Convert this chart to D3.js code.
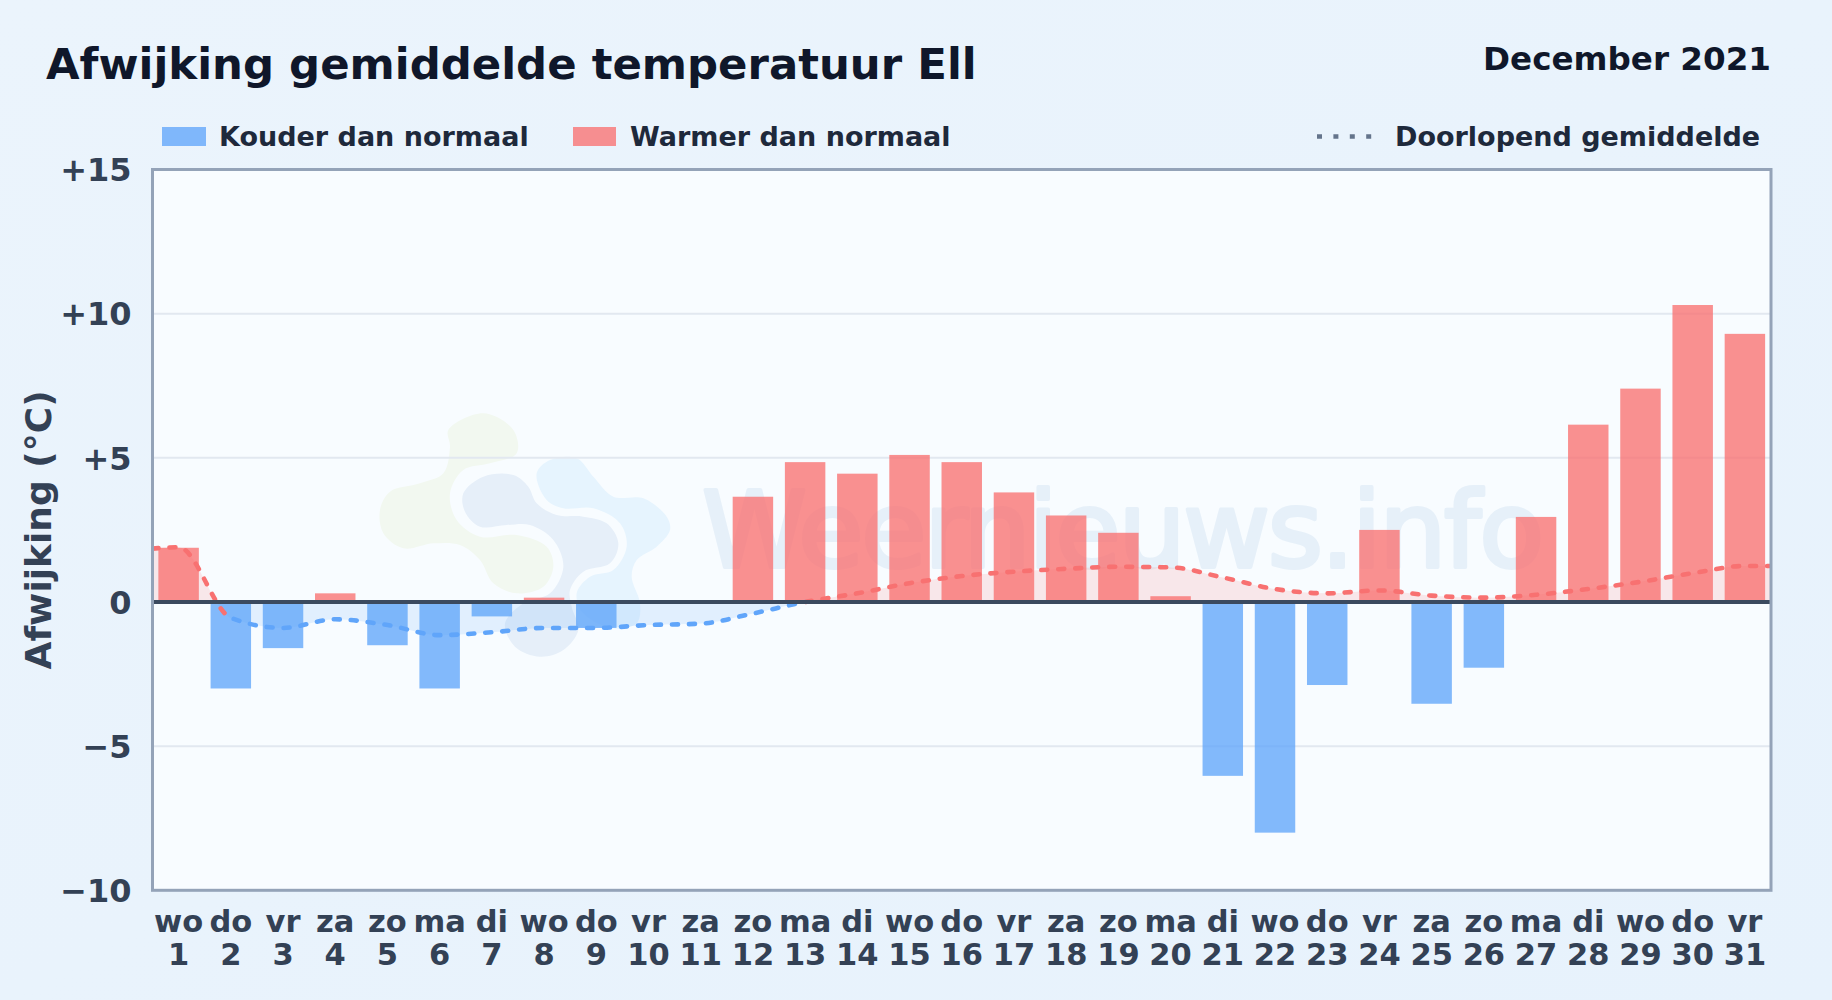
<!DOCTYPE html>
<html>
<head>
    <meta charset="UTF-8">
    <title>Afwijking gemiddelde temperatuur Ell</title>
    <script src="https://d3js.org/d3.v7.min.js"></script>
    <style>
        html, body { margin: 0; padding: 0; background: #e8f3fc; }
        svg { display: block; font-family: "DejaVu Sans", sans-serif; font-weight: bold; }
    </style>
</head>
<body>
<div id="svg-area"></div>
<script>
// Data
var days = [1, 2, 3, 4, 5, 6, 7, 8, 9, 10, 11, 12, 13, 14, 15, 16, 17, 18, 19, 20, 21, 22, 23, 24, 25, 26, 27, 28, 29, 30, 31];
var weekdays = ["wo", "do", "vr", "za", "zo", "ma", "di", "wo", "do", "vr", "za", "zo", "ma", "di", "wo", "do", "vr", "za", "zo", "ma", "di", "wo", "do", "vr", "za", "zo", "ma", "di", "wo", "do", "vr"];
var deviation = [1.88, -3.0, -1.6, 0.3, -1.5, -3.0, -0.5, 0.15, -0.9, 0, 0, 3.65, 4.85, 4.45, 5.1, 4.85, 3.8, 3.0, 2.4, 0.2, -6.03, -8.0, -2.88, 2.5, -3.53, -2.28, 2.95, 6.15, 7.4, 10.3, 9.3];
var runningAvg = [1.9, -0.55, -0.9, -0.6, -0.8, -1.15, -1.05, -0.9, -0.9, -0.8, -0.75, -0.4, 0.0, 0.3, 0.65, 0.9, 1.05, 1.15, 1.22, 1.2, 0.85, 0.45, 0.3, 0.4, 0.22, 0.15, 0.25, 0.45, 0.7, 1.0, 1.25];
var avgLeftEdge = 1.85;
var avgRightEdge = 1.25;
var yTicks = [-10, -5, 0, 5, 10, 15];
var yTickLabels = ["\u221210", "\u22125", "0", "+5", "+10", "+15"];

var width = 1832;
var height = 1000;
var margin = { top: 169.5, bottom: 109.7, left: 152.5, right: 61 };

var coldColor = "#60a5fa";
var warmColor = "#f87171";

var svg = d3.select("#svg-area")
    .append("svg")
    .attr("width", width)
    .attr("height", height);

var defs = svg.append("defs");

var pageGrad = defs.append("linearGradient").attr("id", "pageBg")
    .attr("x1", 0).attr("y1", 0).attr("x2", 1).attr("y2", 1);
pageGrad.append("stop").attr("offset", "0%").attr("stop-color", "#ebf4fc");
pageGrad.append("stop").attr("offset", "100%").attr("stop-color", "#e7f2fc");

svg.append("rect").attr("width", width).attr("height", height).attr("fill", "url(#pageBg)");

var x = d3.scaleBand()
    .domain(days)
    .range([margin.left, width - margin.right])
    .paddingInner(0.225)
    .paddingOuter(0.1125);

var y = d3.scaleLinear()
    .domain([-10, 15])
    .range([height - margin.bottom, margin.top]);

var xMid = function(d) { return x(d) + x.bandwidth() / 2; };

// plot background
svg.append("rect")
    .attr("x", x.range()[0])
    .attr("y", y(15))
    .attr("width", x.range()[1] - x.range()[0])
    .attr("height", y(-10) - y(15))
    .attr("fill", "#f8fcff");

// watermark logo, sits under everything
var blobs = [
    { color: "#f2f8f0", pts: [[400,100],[490,150],[500,220],[420,250],[340,270],[300,340],[320,420],[390,470],[500,465],[590,500],[610,560],[580,620],[500,640],[430,610],[390,540],[330,495],[250,490],[160,505],[100,460],[90,390],[120,335],[210,310],[280,280],[300,200],[295,150]] },
    { color: "#e6eff9", pts: [[340,340],[400,290],[490,285],[535,320],[560,370],[620,405],[700,410],[770,430],[805,490],[780,550],[700,575],[660,630],[665,680],[685,750],[640,810],[570,830],[495,800],[465,730],[520,670],[600,640],[640,560],[610,480],[540,435],[470,435],[390,440],[345,395]] },
    { color: "#e6f4fe", pts: [[560,280],[600,240],[680,235],[730,290],[790,350],[880,355],[950,410],[960,450],[920,500],[860,540],[845,590],[870,670],[860,730],[790,745],[700,700],[680,640],[720,590],[790,570],[830,500],[810,430],[730,385],[640,385],[590,360]] }
];
var blobLine = d3.line()
    .x(function(p) { return 350 + p[0] / 3; })
    .y(function(p) { return 380 + p[1] / 3; })
    .curve(d3.curveCatmullRomClosed.alpha(0.5));
svg.append("g").selectAll("path")
    .data(blobs)
    .enter()
    .append("path")
    .attr("d", function(b) { return blobLine(b.pts); })
    .attr("fill", function(b) { return b.color; });

svg.append("text")
    .attr("x", 702)
    .attr("y", 567)
    .attr("font-size", 106)
    .attr("font-weight", "normal")
    .attr("fill", "#e6f0f9")
    .attr("stroke", "#e6f0f9")
    .attr("stroke-width", 4)
    .attr("stroke-linejoin", "round")
    .attr("textLength", 842)
    .text("Weernieuws.info");

// grid lines
svg.append("g").selectAll("line")
    .data(yTicks.filter(function(t) { return t !== 0 && t !== 15 && t !== -10; }))
    .enter()
    .append("line")
    .attr("x1", x.range()[0])
    .attr("x2", x.range()[1])
    .attr("y1", function(d) { return y(d); })
    .attr("y2", function(d) { return y(d); })
    .attr("stroke", "#e2e8f0")
    .attr("stroke-width", 2);

// bars
svg.append("g").selectAll("rect")
    .data(deviation)
    .enter()
    .append("rect")
    .attr("x", function(d, i) { return x(days[i]); })
    .attr("y", function(d) { return y(Math.max(d, 0)); })
    .attr("width", x.bandwidth())
    .attr("height", function(d) { return Math.abs(y(d) - y(0)); })
    .attr("fill", function(d) { return d < 0 ? coldColor : warmColor; })
    .attr("fill-opacity", 0.78);

// running average: the fill splits at zero, the line changes colour per segment
var avgPoints = [[x.range()[0], avgLeftEdge]]
    .concat(runningAvg.map(function(v, i) { return [xMid(days[i]), v]; }))
    .concat([[x.range()[1], avgRightEdge]]);

var plotW = x.range()[1] - x.range()[0];
defs.append("clipPath").attr("id", "aboveZero").append("rect")
    .attr("x", x.range()[0]).attr("y", y(15))
    .attr("width", plotW).attr("height", y(0) - y(15));
defs.append("clipPath").attr("id", "belowZero").append("rect")
    .attr("x", x.range()[0]).attr("y", y(0))
    .attr("width", plotW).attr("height", y(-10) - y(0));

var warmClip = defs.append("clipPath").attr("id", "warmDays");
warmClip.append("rect")
    .attr("x", x.range()[0]).attr("y", y(15))
    .attr("width", xMid(2) - x.range()[0]).attr("height", y(-10) - y(15));
warmClip.append("rect")
    .attr("x", xMid(13)).attr("y", y(15))
    .attr("width", x.range()[1] - xMid(13)).attr("height", y(-10) - y(15));
defs.append("clipPath").attr("id", "coldDays").append("rect")
    .attr("x", xMid(2)).attr("y", y(15))
    .attr("width", xMid(13) - xMid(2)).attr("height", y(-10) - y(15));

var avgLine = d3.line()
    .x(function(p) { return p[0]; })
    .y(function(p) { return y(p[1]); })
    .curve(d3.curveMonotoneX);
var avgArea = d3.area()
    .x(function(p) { return p[0]; })
    .y0(y(0))
    .y1(function(p) { return y(p[1]); })
    .curve(d3.curveMonotoneX);

[["aboveZero", warmColor], ["belowZero", coldColor]].forEach(function(part) {
    svg.append("path")
        .attr("clip-path", "url(#" + part[0] + ")")
        .attr("d", avgArea(avgPoints))
        .attr("fill", part[1])
        .attr("fill-opacity", 0.15);
});

[["warmDays", warmColor], ["coldDays", coldColor]].forEach(function(part) {
    svg.append("path")
        .attr("clip-path", "url(#" + part[0] + ")")
        .attr("d", avgLine(avgPoints))
        .attr("fill", "none")
        .attr("stroke", part[1])
        .attr("stroke-width", 4.6)
        .attr("stroke-linecap", "round")
        .attr("stroke-dasharray", "6 11");
});

// zero line
svg.append("line")
    .attr("x1", x.range()[0])
    .attr("x2", x.range()[1])
    .attr("y1", y(0))
    .attr("y2", y(0))
    .attr("stroke", "#3b4a5f")
    .attr("stroke-width", 3.8);

// plot border
svg.append("rect")
    .attr("x", x.range()[0])
    .attr("y", y(15))
    .attr("width", plotW)
    .attr("height", y(-10) - y(15))
    .attr("fill", "none")
    .attr("stroke", "#94a3b8")
    .attr("stroke-width", 3);

// axes
var yAxis = d3.axisLeft(y)
    .tickValues(yTicks)
    .tickSize(0)
    .tickPadding(21)
    .tickFormat(function(d) { return yTickLabels[yTicks.indexOf(d)]; });

svg.append("g")
    .attr("transform", "translate(" + margin.left + ",1)")
    .call(yAxis)
    .call(function(g) { g.select(".domain").remove(); })
    .selectAll("text")
    .attr("font-family", "DejaVu Sans")
    .attr("font-size", 32)
    .attr("fill", "#334155");

var xAxis = d3.axisBottom(x).tickSize(0).tickFormat("");
var xAxisG = svg.append("g")
    .attr("transform", "translate(0," + y(-10) + ")")
    .call(xAxis);
xAxisG.select(".domain").remove();
xAxisG.selectAll(".tick text").remove();
xAxisG.selectAll(".tick").each(function(d, i) {
    var t = d3.select(this).append("text")
        .attr("text-anchor", "middle")
        .attr("font-family", "DejaVu Sans")
        .attr("font-size", 30.5)
        .attr("fill", "#334155");
    t.append("tspan").attr("x", 0).attr("y", 42).text(weekdays[i]);
    t.append("tspan").attr("x", 0).attr("y", 75).text(d);
});

svg.append("text")
    .attr("transform", "translate(51," + (y(-10) + y(15)) / 2 + ") rotate(-90)")
    .attr("text-anchor", "middle")
    .attr("font-size", 36)
    .attr("fill", "#334155")
    .text("Afwijking (\u00b0C)");

// titles
svg.append("text")
    .attr("x", 46)
    .attr("y", 79)
    .attr("font-size", 43.4)
    .attr("fill", "#0f172a")
    .text("Afwijking gemiddelde temperatuur Ell");

svg.append("text")
    .attr("x", 1771)
    .attr("y", 70)
    .attr("text-anchor", "end")
    .attr("font-size", 32.6)
    .attr("fill", "#0f172a")
    .text("December 2021");

// legend
svg.append("rect").attr("x", 162).attr("y", 127).attr("width", 44).attr("height", 19)
    .attr("fill", coldColor).attr("fill-opacity", 0.78);
svg.append("text").attr("x", 219).attr("y", 146).attr("font-size", 27).attr("fill", "#1e293b")
    .text("Kouder dan normaal");
svg.append("rect").attr("x", 573).attr("y", 127).attr("width", 43).attr("height", 19)
    .attr("fill", warmColor).attr("fill-opacity", 0.78);
svg.append("text").attr("x", 630).attr("y", 146).attr("font-size", 27).attr("fill", "#1e293b")
    .text("Warmer dan normaal");
svg.append("line")
    .attr("x1", 1317).attr("x2", 1375).attr("y1", 136.5).attr("y2", 136.5)
    .attr("stroke", "#64748b").attr("stroke-width", 4.6).attr("stroke-dasharray", "5 11.4");
svg.append("text").attr("x", 1395).attr("y", 146).attr("font-size", 27).attr("fill", "#1e293b")
    .text("Doorlopend gemiddelde");
</script>
</body>
</html>
